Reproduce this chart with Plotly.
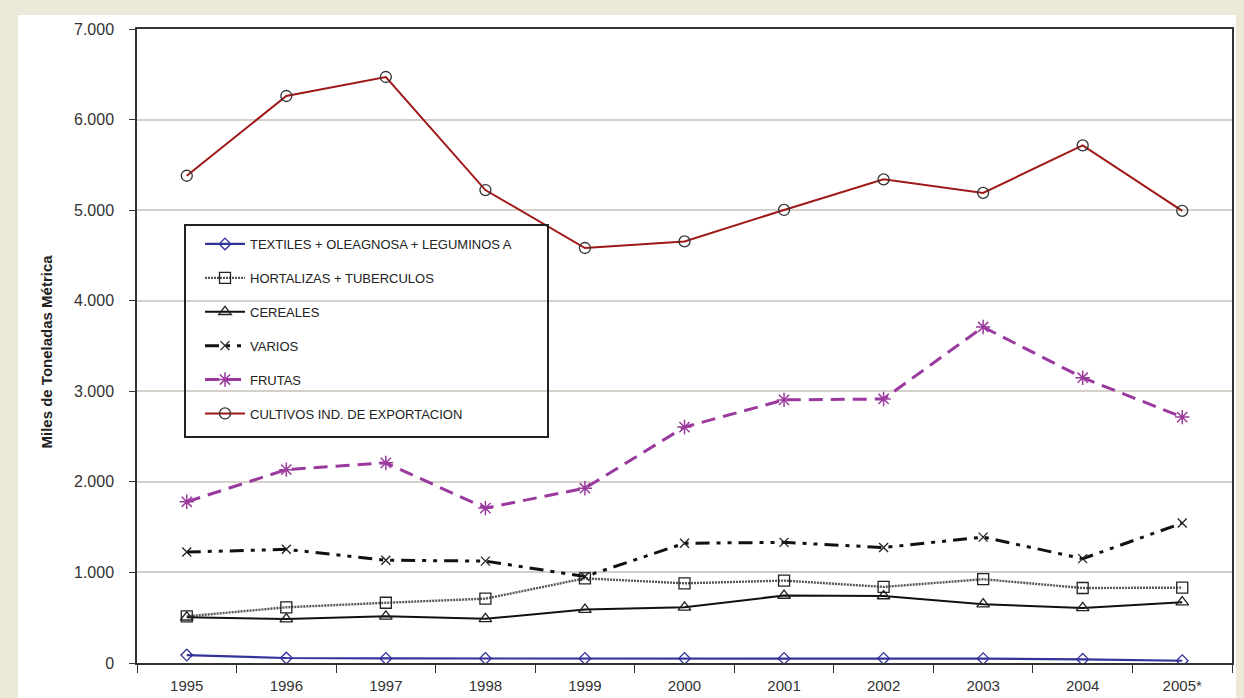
import plotly.graph_objects as go

years = ["1995", "1996", "1997", "1998", "1999", "2000", "2001", "2002", "2003", "2004", "2005*"]

textiles = [88, 55, 50, 50, 50, 50, 50, 50, 48, 40, 25]
hortalizas = [515, 615, 665, 710, 935, 880, 910, 840, 925, 828, 832]
cereales = [505, 485, 515, 488, 590, 615, 745, 740, 650, 608, 672]
varios = [1225, 1255, 1135, 1125, 955, 1322, 1332, 1275, 1390, 1152, 1545]
frutas = [1780, 2135, 2210, 1710, 1930, 2605, 2905, 2915, 3710, 3150, 2715]
cultivos = [5380, 6260, 6470, 5222, 4582, 4655, 5002, 5340, 5190, 5715, 4992]

names = [
    "TEXTILES + OLEAGNOSA + LEGUMINOS A",
    "HORTALIZAS + TUBERCULOS",
    "CEREALES",
    "VARIOS",
    "FRUTAS",
    "CULTIVOS IND. DE EXPORTACION",
]

y_ticks = [0, 1000, 2000, 3000, 4000, 5000, 6000, 7000]
y_tick_text = ["0", "1.000", "2.000", "3.000", "4.000", "5.000", "6.000", "7.000"]

W, H = 1244, 698
L, R, T, B = 137, 12, 29, 35
pw, ph = W - L - R, H - T - B


def px(x):
    return (x - L) / pw


def py(y):
    return (H - B - y) / ph


fig = go.Figure()

series = [
    (textiles, dict(color="#33339A", width=2.2), dict(symbol="diamond-open", size=9, color="#33339A", line=dict(width=1.3))),
    (hortalizas, dict(color="#555555", width=2.4, dash="2px,1px"), dict(symbol="square-open", size=11, color="#222222", line=dict(width=1.3))),
    (cereales, dict(color="#111111", width=2), dict(symbol="triangle-up-open", size=11, color="#222222", line=dict(width=1.3))),
    (varios, dict(color="#111111", width=3, dash="14px,7px,4px,7px,4px,7px"), dict(symbol="x-thin-open", size=9, color="#222222", line=dict(width=1.3))),
    (frutas, dict(color="#9A3A9E", width=3, dash="14px,8px"), dict(symbol="asterisk-open", size=12, color="#9A3A9E", line=dict(width=1.5))),
    (cultivos, dict(color="#A01818", width=2), dict(symbol="circle-open", size=11, color="#333333", line=dict(width=1.3))),
]

for i, (vals, line, marker) in enumerate(series):
    fig.add_trace(go.Scatter(
        x=years, y=vals, name=names[i], mode="lines+markers",
        line=line, marker=marker, legendgroup=f"g{i}",
    ))

font_family = "Liberation Sans, Arial, sans-serif"

fig.update_layout(
    width=W, height=H,
    margin=dict(l=L, r=R, t=T, b=B, pad=0, autoexpand=False),
    paper_bgcolor="#ECE9D8",
    plot_bgcolor="white",
    font=dict(family=font_family, color="#333333"),
    showlegend=True,
    legend=dict(
        x=px(200), y=py(229), xanchor="left", yanchor="top",
        bgcolor="rgba(0,0,0,0)", borderwidth=0,
        font=dict(size=13, color="#222222", family=font_family),
        tracegroupgap=14, itemwidth=40,
    ),
    shapes=[
        dict(type="rect", xref="paper", yref="paper", x0=px(18), x1=px(1236), y0=py(698), y1=py(15),
             fillcolor="white", line=dict(width=0), layer="below"),
        dict(type="rect", xref="paper", yref="paper", x0=px(185), x1=px(548), y0=py(437), y1=py(225),
             fillcolor="rgba(0,0,0,0)", line=dict(color="#222222", width=2), layer="above"),
    ],
    annotations=[
        dict(text="<b>Miles de Toneladas Métrica</b>", xref="paper", yref="paper",
             x=px(36), y=py(352), textangle=-90, showarrow=False,
             font=dict(size=15, color="#222222", family=font_family)),
    ],
)

fig.update_xaxes(
    type="category", range=[-0.5, len(years) - 0.5],
    showline=True, linecolor="#333333", linewidth=1.5, mirror=True,
    ticks="outside", tickson="boundaries", ticklen=8, tickcolor="#333333",
    showgrid=False, tickfont=dict(size=15, color="#333333"), ticklabelstandoff=8,
    automargin=False,
)
fig.update_yaxes(
    range=[0, 7000], tickvals=y_ticks, ticktext=y_tick_text,
    showline=True, linecolor="#333333", linewidth=1.5, mirror=True,
    ticks="outside", ticklen=6, tickcolor="#333333",
    showgrid=True, gridcolor="#D6D0CA", gridwidth=2,
    tickfont=dict(size=16, color="#333333"), zeroline=False, ticklabelstandoff=12,
    automargin=False,
)

fig.write_html("out.html")
